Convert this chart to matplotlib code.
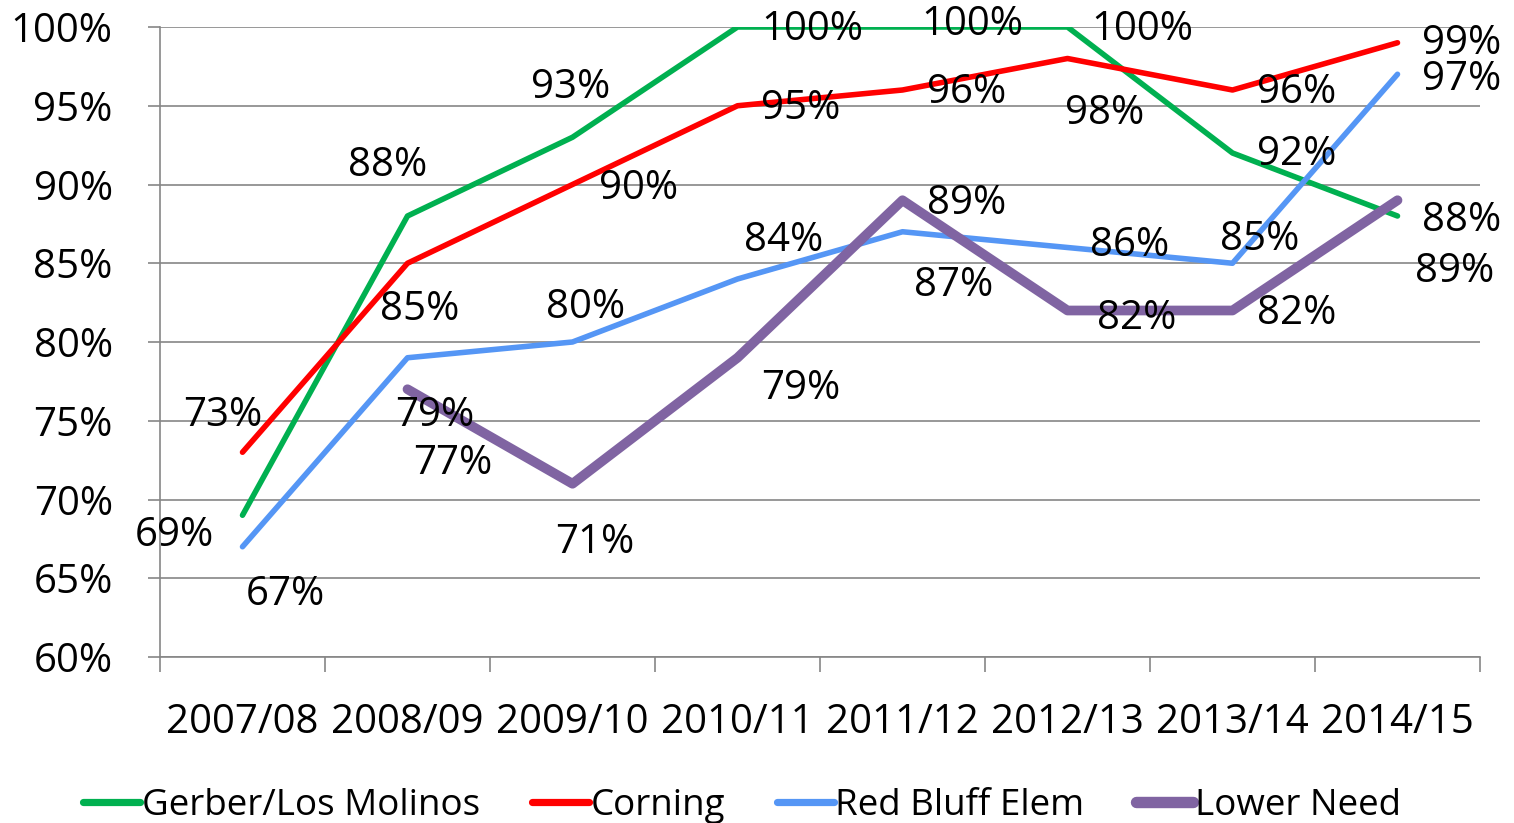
import numpy as np
import matplotlib.pyplot as plt
from matplotlib.ticker import FixedLocator

plt.rcParams['font.family'] = ['Open Sans', 'DejaVu Sans']

years = ['2007/08', '2008/09', '2009/10', '2010/11', '2011/12', '2012/13', '2013/14', '2014/15']
gerber = [69, 88, 93, 100, 100, 100, 92, 88]
corning = [73, 85, 90, 95, 96, 98, 96, 99]
red_bluff = [67, 79, 80, 84, 87, 86, 85, 97]
lower_need = [np.nan, 77, 71, 79, 89, 82, 82, 89]
names = ['Gerber/Los Molinos', 'Corning', 'Red Bluff Elem', 'Lower Need']

colors = ['#00B050', '#FF0000', '#5596F5', '#8064A2']
widths = [4.0, 4.0, 4.0, 7.0]

# label offsets in pixels (dx, dy) per point
offs = [
    [(-68, -20), (-20, 50), (-2, 49), (75, -3), (70, 2), (75, -3), (64, -2), (64, -5)],
    [(-20, 37), (12, -47), (66, -4), (63, -3), (64, -3), (37, -55), (64, -3), (64, -1)],
    [(43, -48), (27, -58), (13, 34), (46, 38), (51, -54), (62, 2), (27, 23), (64, -5)],
    [None, (45, -74), (22, -59), (63, -31), (64, -4), (69, -8), (64, -3), (57, -71)],
]

fs = 29
fig = plt.figure(figsize=(15.14, 8.23), dpi=100)
ax = fig.add_axes([160/1514, 1-657/823, 1320/1514, 630/823])

x = np.arange(len(years))
series = [gerber, corning, red_bluff, lower_need]
for s, name, c, w, off in zip(series, names, colors, widths, offs):
    ax.plot(x, s, color=c, lw=w, solid_capstyle='round', solid_joinstyle='round', label=name)
    for xi, v, o in zip(x, s, off):
        if o is None or np.isnan(v):
            continue
        ax.annotate(f'{v:.0f}%', (xi, v), xytext=o, textcoords='offset pixels',
                    ha='center', va='center', fontsize=fs, color='black')

ax.set_xlim(-0.5, 7.5)
ax.set_ylim(60, 100)
ax.set_yticks(np.arange(60, 101, 5))
ax.set_yticklabels([f'{v}%' for v in range(60, 101, 5)])
ax.set_xticks(x)
ax.set_xticklabels(years)
ax.xaxis.set_minor_locator(FixedLocator(np.arange(-0.5, 8, 1)))
ax.tick_params(axis='x', which='major', length=0, pad=33, labelsize=fs)
ax.tick_params(axis='x', which='minor', length=11, color='#868686', width=1.2)
ax.tick_params(axis='y', length=9, color='#868686', width=1.2, pad=25, labelsize=fs)
ax.grid(axis='y', color='#868686', lw=1.2)
ax.set_axisbelow(True)
for sp in ['top', 'right']:
    ax.spines[sp].set_visible(False)
for sp in ['left', 'bottom']:
    ax.spines[sp].set_color('#868686')
    ax.spines[sp].set_linewidth(1.2)

leg = fig.legend(loc='center', ncol=4, bbox_to_anchor=(742/1514, 1-806/823), frameon=False,
                 fontsize=26.5, handlelength=1.55, handletextpad=0.05, columnspacing=1.4)
for h, w in zip(leg.get_lines(), widths):
    h.set_linewidth(w + 1.2)
    h.set_solid_capstyle('round')

fig.savefig('out.png', dpi=100)
